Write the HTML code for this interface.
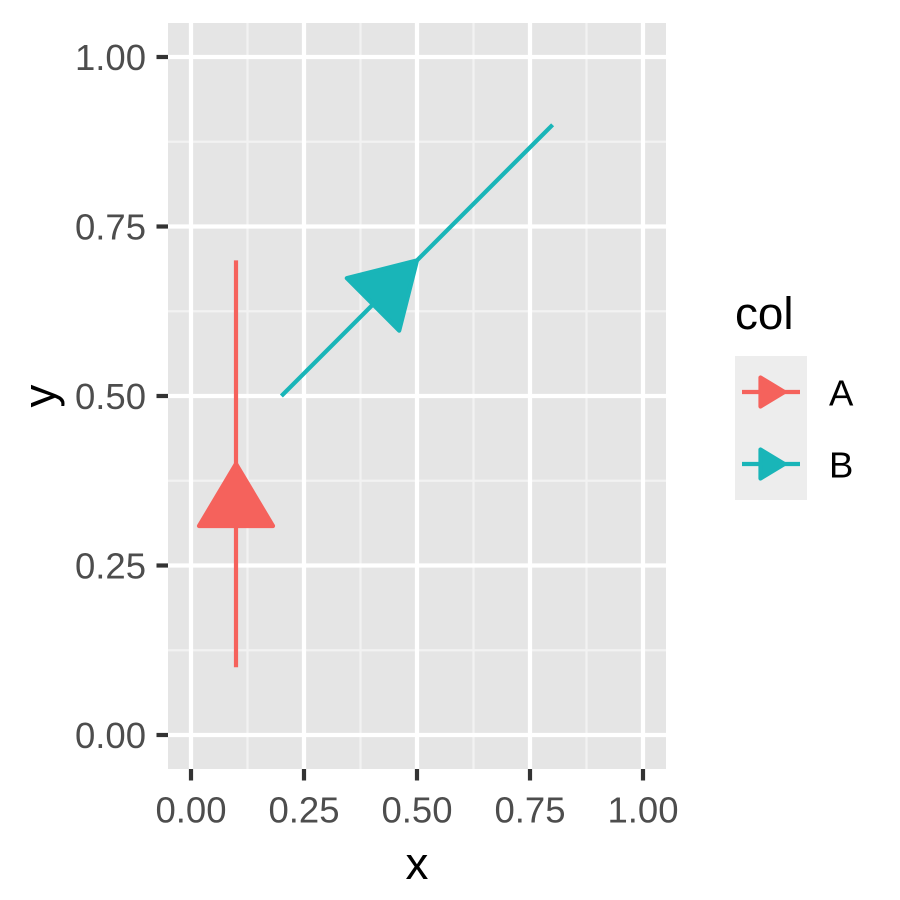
<!DOCTYPE html>
<html>
<head>
<meta charset="utf-8">
<style>
html,body{margin:0;padding:0;background:#fff;}
svg{display:block;}
text{font-family:"Liberation Sans","DejaVu Sans",sans-serif;}
</style>
</head>
<body>
<svg width="900" height="900" viewBox="0 0 900 900" xmlns="http://www.w3.org/2000/svg">
<rect x="0" y="0" width="900" height="900" fill="#ffffff"/>
<!-- panel -->
<rect x="168" y="23" width="498" height="746" fill="#E5E5E5"/>
<!-- minor grid -->
<g stroke="#F2F2F2" stroke-width="2.2">
<line x1="247.5" y1="23" x2="247.5" y2="769"/>
<line x1="360.5" y1="23" x2="360.5" y2="769"/>
<line x1="473.5" y1="23" x2="473.5" y2="769"/>
<line x1="586.5" y1="23" x2="586.5" y2="769"/>
<line x1="168" y1="650.25" x2="666" y2="650.25"/>
<line x1="168" y1="480.75" x2="666" y2="480.75"/>
<line x1="168" y1="311.25" x2="666" y2="311.25"/>
<line x1="168" y1="141.75" x2="666" y2="141.75"/>
</g>
<!-- major grid -->
<g stroke="#FFFFFF" stroke-width="4.2">
<line x1="191" y1="23" x2="191" y2="769"/>
<line x1="304" y1="23" x2="304" y2="769"/>
<line x1="417" y1="23" x2="417" y2="769"/>
<line x1="530" y1="23" x2="530" y2="769"/>
<line x1="643" y1="23" x2="643" y2="769"/>
<line x1="168" y1="735" x2="666" y2="735"/>
<line x1="168" y1="565.5" x2="666" y2="565.5"/>
<line x1="168" y1="396" x2="666" y2="396"/>
<line x1="168" y1="226.5" x2="666" y2="226.5"/>
<line x1="168" y1="57" x2="666" y2="57"/>
</g>
<!-- series A -->
<line x1="236" y1="667.2" x2="236" y2="260.4" stroke="#F5625C" stroke-width="4.2"/>
<polygon points="236,463.8 199,526 273,526" fill="#F5625C" stroke="#F5625C" stroke-width="4.2" stroke-linejoin="round"/>
<!-- series B -->
<line x1="281.4" y1="396" x2="552.6" y2="124.8" stroke="#19B5B8" stroke-width="4.2"/>
<polygon points="417,260.4 346.8,278.2 399.2,330.6" fill="#19B5B8" stroke="#19B5B8" stroke-width="4.2" stroke-linejoin="round"/>
<!-- axis ticks -->
<g stroke="#333333" stroke-width="4.2">
<line x1="191" y1="769" x2="191" y2="780.5"/>
<line x1="304" y1="769" x2="304" y2="780.5"/>
<line x1="417" y1="769" x2="417" y2="780.5"/>
<line x1="530" y1="769" x2="530" y2="780.5"/>
<line x1="643" y1="769" x2="643" y2="780.5"/>
<line x1="156.5" y1="735" x2="168" y2="735"/>
<line x1="156.5" y1="565.5" x2="168" y2="565.5"/>
<line x1="156.5" y1="396" x2="168" y2="396"/>
<line x1="156.5" y1="226.5" x2="168" y2="226.5"/>
<line x1="156.5" y1="57" x2="168" y2="57"/>
</g>
<!-- tick labels -->
<g fill="#4D4D4D" font-size="36.5" text-anchor="middle">
<text x="191" y="822.5">0.00</text>
<text x="304" y="822.5">0.25</text>
<text x="417" y="822.5">0.50</text>
<text x="530" y="822.5">0.75</text>
<text x="643" y="822.5">1.00</text>
</g>
<g fill="#4D4D4D" font-size="36.5" text-anchor="end">
<text x="146" y="748">0.00</text>
<text x="146" y="578.5">0.25</text>
<text x="146" y="409">0.50</text>
<text x="146" y="239.5">0.75</text>
<text x="146" y="70">1.00</text>
</g>
<!-- axis titles -->
<text x="417" y="879" font-size="45.8" text-anchor="middle" fill="#000">x</text>
<text transform="translate(55,396) rotate(-90)" x="0" y="0" font-size="45.8" text-anchor="middle" fill="#000">y</text>
<!-- legend -->
<text x="735" y="329" font-size="45.8" fill="#000">col</text>
<rect x="735" y="356" width="72" height="72" fill="#EDEDED"/>
<rect x="735" y="428" width="72" height="72" fill="#EDEDED"/>
<line x1="742" y1="392" x2="800" y2="392" stroke="#F5625C" stroke-width="4.2"/>
<polygon points="784.5,392 760.5,377.5 760.5,406.5" fill="#F5625C" stroke="#F5625C" stroke-width="4.2" stroke-linejoin="round"/>
<line x1="742" y1="464" x2="800" y2="464" stroke="#19B5B8" stroke-width="4.2"/>
<polygon points="784.5,464 760.5,449.5 760.5,478.5" fill="#19B5B8" stroke="#19B5B8" stroke-width="4.2" stroke-linejoin="round"/>
<text x="829" y="405.5" font-size="36.5" fill="#000">A</text>
<text x="829" y="477.5" font-size="36.5" fill="#000">B</text>
</svg>
</body>
</html>
